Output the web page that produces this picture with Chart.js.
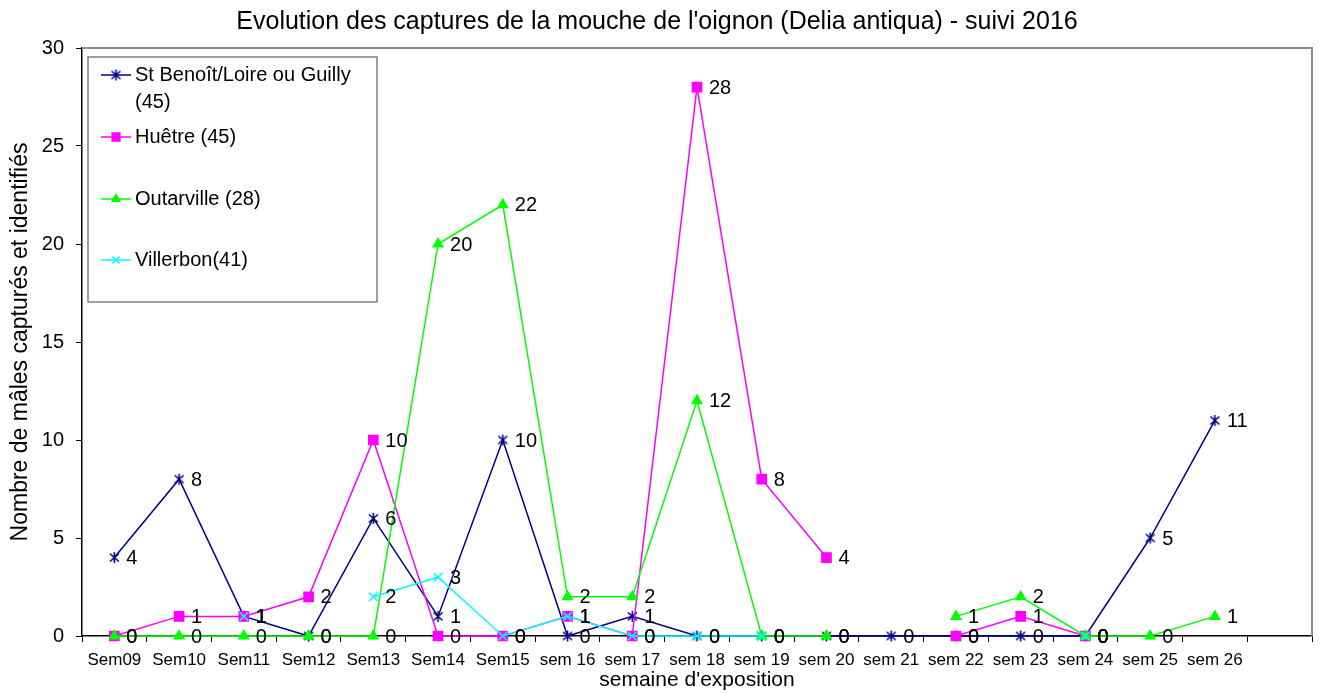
<!DOCTYPE html>
<html lang="fr">
<head>
<meta charset="utf-8">
<title>Mouche de l'oignon 2016</title>
<script src="https://cdn.jsdelivr.net/npm/chart.js@4.4.1/dist/chart.umd.min.js"></script>
<style>
  html, body { margin: 0; padding: 0; background: #fff; }
  #wrap { width: 1320px; height: 693px; position: relative; }
</style>
</head>
<body>
<div id="wrap"><canvas id="graphique"></canvas></div>
<script>
// semaines (la derniere categorie est vide, comme dans le graphique d'origine)
const semaines = ['Sem09', 'Sem10', 'Sem11', 'Sem12', 'Sem13', 'Sem14', 'Sem15', 'sem 16', 'sem 17',
  'sem 18', 'sem 19', 'sem 20', 'sem 21', 'sem 22', 'sem 23', 'sem 24', 'sem 25', 'sem 26', ''];

const stBenoit   = [4, 8, 1, 0, 6, 1, 10, 0, 1, 0, 0, 0, 0, 0, 0, 0, 5, 11, null];
const huetre     = [0, 1, 1, 2, 10, 0, 0, 1, 0, 28, 8, 4, null, 0, 1, 0, null, null, null];
const outarville = [0, 0, 0, 0, 0, 20, 22, 2, 2, 12, 0, 0, null, 1, 2, 0, 0, 1, null];
const villerbon  = [null, null, 1, null, 2, 3, 0, 1, 0, 0, 0, null, null, null, null, 0, null, null, null];

const graduationsY = [0, 5, 10, 15, 20, 25, 30];

const police = "'Liberation Sans', Arial, Helvetica, sans-serif";
Chart.defaults.font.family = police;
Chart.defaults.color = '#000';

// marqueur "etoile" façon Excel : un X avec un trait vertical
function marqueurEtoile(couleur) {
  const c = document.createElement('canvas');
  c.width = 13; c.height = 13;
  const g = c.getContext('2d');
  g.strokeStyle = couleur;
  g.lineWidth = 1.6;
  g.beginPath();
  g.moveTo(6.5, 1); g.lineTo(6.5, 12);
  g.moveTo(2, 2.5); g.lineTo(11, 10.5);
  g.moveTo(11, 2.5); g.lineTo(2, 10.5);
  g.stroke();
  return c;
}

const series = [
  { label: ['St Benoît/Loire ou Guilly', '(45)'], data: stBenoit, couleur: '#000080', style: marqueurEtoile('#000080'), rayon: 6, ordre: 3 },
  { label: ['Huêtre (45)'], data: huetre, couleur: '#FF00FF', style: 'rect', rayon: 6.5, ordre: 2 },
  { label: ['Outarville (28)'], data: outarville, couleur: '#00FF00', style: 'triangle', rayon: 5.5, ordre: 1 },
  { label: ['Villerbon(41)'], data: villerbon, couleur: '#00FFFF', style: 'crossRot', rayon: 6, ordre: 0 }
];

// cadre gris du trace
const cadre = {
  id: 'cadre',
  beforeDatasetsDraw(chart) {
    const a = chart.chartArea, ctx = chart.ctx;
    ctx.save();
    ctx.strokeStyle = '#8c8c8c';
    ctx.lineWidth = 2;
    ctx.beginPath();
    ctx.moveTo(a.left, a.top);
    ctx.lineTo(a.right, a.top);
    ctx.lineTo(a.right, a.bottom);
    ctx.stroke();
    ctx.restore();
  }
};

// etiquettes de valeurs a droite des points
const etiquettes = {
  id: 'etiquettes',
  afterDatasetsDraw(chart) {
    const ctx = chart.ctx;
    ctx.save();
    ctx.font = '20px ' + police;
    ctx.fillStyle = '#000';
    ctx.textAlign = 'left';
    ctx.textBaseline = 'middle';
    chart.data.datasets.forEach((ds, i) => {
      const meta = chart.getDatasetMeta(i);
      meta.data.forEach((pt, j) => {
        const v = ds.data[j];
        if (v === null || v === undefined) return;
        ctx.fillText(String(v), pt.x + 12, pt.y + 1);
      });
    });
    ctx.restore();
  }
};

// legende encadree dans le coin haut gauche
const legende = {
  id: 'legende',
  afterDraw(chart) {
    const ctx = chart.ctx, a = chart.chartArea;
    const x0 = a.left + 6, y0 = a.top + 9, w = 289, h = 245;
    const lignesY = [75, 137, 199, 260];
    ctx.save();
    ctx.fillStyle = '#fff';
    ctx.fillRect(x0, y0, w, h);
    ctx.strokeStyle = '#808080';
    ctx.lineWidth = 1.5;
    ctx.strokeRect(x0, y0, w, h);
    ctx.font = '20px ' + police;
    ctx.textBaseline = 'middle';
    ctx.textAlign = 'left';
    series.forEach((s, i) => {
      const y = lignesY[i] + (y0 - 57);
      ctx.strokeStyle = s.couleur;
      ctx.fillStyle = s.couleur;
      ctx.lineWidth = 1.5;
      ctx.beginPath();
      ctx.moveTo(x0 + 13, y); ctx.lineTo(x0 + 43, y);
      ctx.stroke();
      Chart.helpers.drawPoint(ctx, {
        pointStyle: s.style, radius: s.rayon - 1, borderWidth: 1.5, rotation: 0
      }, x0 + 28, y);
      ctx.fillStyle = '#000';
      s.label.forEach((t, k) => ctx.fillText(t, x0 + 47, y + k * 27));
    });
    ctx.restore();
  }
};

new Chart(document.getElementById('graphique').getContext('2d'), {
  type: 'line',
  data: {
    labels: semaines,
    datasets: series.map(s => ({
      label: s.label.join(' '),
      data: s.data,
      borderColor: s.couleur,
      backgroundColor: s.couleur,
      borderWidth: 1.5,
      pointStyle: s.style,
      pointRadius: s.rayon,
      pointHoverRadius: s.rayon,
      pointBorderColor: s.couleur,
      pointBackgroundColor: s.couleur,
      pointBorderWidth: 1.5,
      tension: 0,
      spanGaps: false,
      clip: false,
      order: s.ordre
    }))
  },
  options: {
    responsive: true,
    maintainAspectRatio: false,
    animation: false,
    layout: { padding: { left: 0, right: 6, top: 0, bottom: 0 } },
    scales: {
      x: {
        type: 'category',
        offset: true,
        grid: { display: true, drawOnChartArea: false, offset: true, tickLength: 6, color: '#000', lineWidth: 1 },
        border: { color: '#000', width: 1.5 },
        ticks: { autoSkip: false, maxRotation: 0, minRotation: 0, font: { size: 17 }, padding: 8 },
        title: { display: true, text: "semaine d'exposition", font: { size: 21 }, padding: { top: 0, bottom: 0 } },
        afterFit(scale) { scale.height = 57; }
      },
      y: {
        min: 0,
        max: 30,
        afterBuildTicks(scale) { scale.ticks = graduationsY.map(v => ({ value: v })); },
        grid: { display: true, drawOnChartArea: false, tickLength: 6, color: '#000', lineWidth: 1 },
        border: { color: '#000', width: 1.5 },
        ticks: { font: { size: 20 }, padding: 12 },
        title: { display: true, text: 'Nombre de mâles capturés et identifiés', font: { size: 23 }, padding: { top: 7, bottom: 0 } },
        afterFit(scale) { scale.width = 82; }
      }
    },
    plugins: {
      legend: { display: false },
      tooltip: { enabled: false },
      title: {
        display: true,
        text: "Evolution des captures de la mouche de l'oignon (Delia antiqua) - suivi 2016",
        font: { size: 25, weight: 'normal' },
        color: '#000',
        padding: { top: 7, bottom: 11 }
      }
    }
  },
  plugins: [cadre, etiquettes, legende]
});
</script>
</body>
</html>
